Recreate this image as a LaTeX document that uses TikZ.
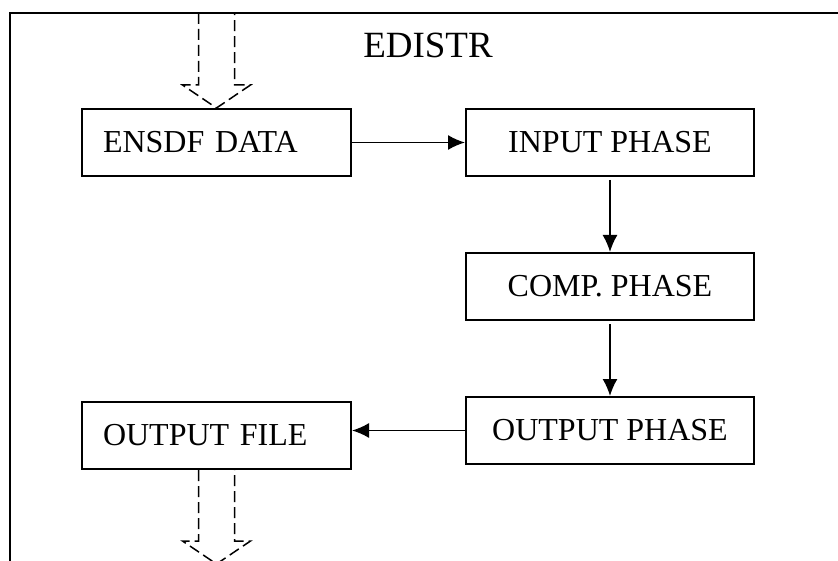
\documentclass[tikz,border=0pt]{standalone}
\usepackage{fontspec}
\setmainfont{Liberation Serif}
\usetikzlibrary{arrows.meta,calc,positioning}

\tikzset{
  phasebox/.style={draw, line width=2bp, minimum width=288bp, minimum height=67bp,
                   font=\fontsize{32bp}{38bp}\selectfont},
  filebox/.style={draw, line width=2bp, minimum height=67bp, text width=227bp,
                  inner xsep=21bp, align=left, font=\fontsize{32bp}{38bp}\selectfont},
  flow/.style={line width=1.6bp, -{Latex[length=17bp,width=15bp]}},
  blockarrow/.style={line width=1.5bp, dash pattern=on 11bp off 5bp}
}

\begin{document}
\begin{tikzpicture}[x=1bp,y=-1bp]

\pgfmathsetmacro{\shaft}{18}
\pgfmathsetmacro{\wing}{34}
\pgfmathsetmacro{\headlen}{23}

\useasboundingbox (0,0) rectangle (838,561);

% FRAME
\draw[line width=2bp] (10,561) -- (10,13) -- (838,13);
\node[anchor=base, font=\fontsize{37bp}{44bp}\selectfont] (title) at (428,58) {EDISTR};

% BOXES
\node(ensdf)[filebox] at (216.5,142.5) {ENSDF DATA};
\node(input)[phasebox] at (610,142.5) {INPUT PHASE};
\node(comp)[phasebox] at (610,286.5) {COMP. PHASE};
\node(outphase)[phasebox] at (610,430.5) {OUTPUT PHASE};
\node(outfile)[filebox] at (216.5,435.5) {OUTPUT FILE};

% ARROWS
\draw[flow] (ensdf) -- (input);
\draw[flow, shorten <=3bp] (input) -- (comp);
\draw[flow, shorten <=3bp] (comp) -- (outphase);
\draw[flow] (outphase.west) -- (outphase.west -| outfile.east);

% DASHED BLOCK ARROWS
%in
\begin{scope}[shift={(ensdf.north)}]
\draw[blockarrow] (-\shaft,-95) -- (-\shaft,-\headlen) -- (-\wing,-\headlen) -- (0,0)
                  -- (\wing,-\headlen) -- (\shaft,-\headlen) -- (\shaft,-95);
\end{scope}
%out
\begin{scope}[shift={($(outfile.south)+(0,94)$)}]
\draw[blockarrow] (-\shaft,-94) -- (-\shaft,-\headlen) -- (-\wing,-\headlen) -- (0,0)
                  -- (\wing,-\headlen) -- (\shaft,-\headlen) -- (\shaft,-94);
\end{scope}

\end{tikzpicture}
\end{document}
